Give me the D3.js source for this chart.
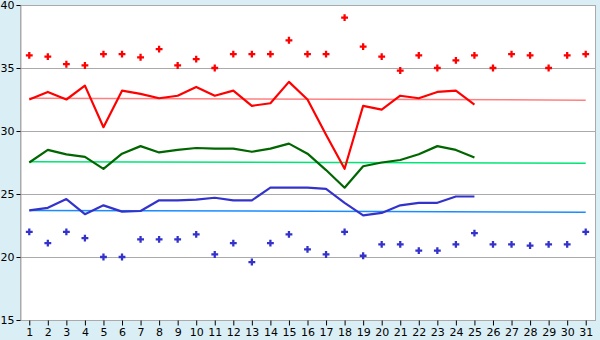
<!DOCTYPE html>
<html>
<head>
<meta charset="utf-8">
<script src="https://cdn.jsdelivr.net/npm/d3@7"></script>
<style>
  body { margin: 0; background: #daeef5; }
  svg { display: block; font-family: "DejaVu Sans", Verdana, sans-serif; font-size: 11px; }
</style>
</head>
<body>
<div id="chart"></div>
<script>
const days = d3.range(1, 32);
const yTicks = [15, 20, 25, 30, 35, 40];

// upper dots (red) and lower dots (blue), one per day
const highDots = [36.0, 35.9, 35.3, 35.2, 36.1, 36.1, 35.85, 36.5, 35.2, 35.7,
    35.0, 36.1, 36.1, 36.1, 37.2, 36.1, 36.1, 39.0, 36.7, 35.9,
    34.8, 36.0, 35.0, 35.6, 36.0, 35.0, 36.1, 36.0, 35.0, 36.0, 36.1];
const lowDots = [22.0, 21.1, 22.0, 21.5, 20.0, 20.0, 21.4, 21.4, 21.4, 21.8,
    20.2, 21.1, 19.6, 21.1, 21.8, 20.6, 20.2, 22.0, 20.1, 21.0,
    21.0, 20.5, 20.5, 21.0, 21.9, 21.0, 21.0, 20.9, 21.0, 21.0, 22.0];

// lines for days 1..25
const redLine = [32.5, 33.1, 32.5, 33.6, 30.3, 33.2, 32.95, 32.6, 32.8, 33.5,
    32.8, 33.2, 32.0, 32.2, 33.9, 32.5, 29.7, 27.0, 32.0, 31.7,
    32.8, 32.6, 33.1, 33.2, 32.1];
const greenLine = [27.5, 28.5, 28.15, 27.95, 27.0, 28.2, 28.8, 28.3, 28.5, 28.65,
    28.6, 28.6, 28.35, 28.6, 29.0, 28.2, 26.9, 25.5, 27.2, 27.5,
    27.7, 28.15, 28.8, 28.5, 27.9];
const blueLine = [23.7, 23.9, 24.6, 23.4, 24.1, 23.6, 23.65, 24.5, 24.5, 24.55,
    24.7, 24.5, 24.5, 25.5, 25.5, 25.5, 25.4, 24.3, 23.3, 23.5,
    24.1, 24.3, 24.3, 24.8, 24.8];

// trend lines, value at day 1 and day 31
const redTrend = [32.6, 32.45];
const greenTrend = [27.56, 27.45];
const blueTrend = [23.7, 23.56];

const width = 600, height = 340;
const margin = { top: 5, right: 5, bottom: 20, left: 20 };

const svg = d3.select('#chart').append('svg')
    .attr('width', width)
    .attr('height', height);

const x = d3.scalePoint()
    .domain(days)
    .range([margin.left, width - margin.right])
    .padding(0.5);

const y = d3.scaleLinear()
    .domain([15, 40])
    .range([height - margin.bottom, margin.top]);

// plot background
svg.append('rect')
    .attr('x', margin.left)
    .attr('y', margin.top)
    .attr('width', width - margin.left - margin.right)
    .attr('height', height - margin.top - margin.bottom)
    .attr('fill', '#fff')
    .attr('stroke', '#aaa')
    .attr('shape-rendering', 'crispEdges');

// grid
svg.append('g')
    .selectAll('line')
    .data(yTicks)
    .join('line')
    .attr('x1', margin.left)
    .attr('x2', width - margin.right)
    .attr('y1', d => Math.round(y(d)) + 0.5)
    .attr('y2', d => Math.round(y(d)) + 0.5)
    .attr('stroke', '#aaa');

// y axis
const yAxis = svg.append('g')
    .attr('transform', `translate(${margin.left + 0.5},0)`)
    .call(d3.axisLeft(y).tickValues(yTicks).tickSize(4).tickPadding(2));
yAxis.select('.domain').attr('stroke', '#aaa');
yAxis.selectAll('.tick line').attr('stroke', '#000');
yAxis.selectAll('text').attr('font-size', 11).attr('font-family', 'DejaVu Sans').attr('fill', '#000');

// x axis
const xAxis = svg.append('g')
    .attr('transform', `translate(0,${height - margin.bottom + 0.5})`)
    .call(d3.axisBottom(x).tickSize(5).tickPadding(3));
xAxis.select('.domain').remove();
xAxis.selectAll('.tick line').attr('stroke', '#000');
xAxis.selectAll('text').attr('font-size', 11).attr('font-family', 'DejaVu Sans').attr('fill', '#000');

// trend lines
const trends = [
    { v: redTrend, color: '#ff8080' },
    { v: greenTrend, color: '#00e676' },
    { v: blueTrend, color: '#1a8cff' }
];
svg.append('g')
    .selectAll('line')
    .data(trends)
    .join('line')
    .attr('x1', x(1))
    .attr('x2', x(31))
    .attr('y1', d => y(d.v[0]))
    .attr('y2', d => y(d.v[1]))
    .attr('stroke', d => d.color)
    .attr('stroke-width', 1.5);

// data lines
const line = d3.line()
    .x((d, i) => x(days[i]))
    .y(d => y(d));

const series = [
    { v: redLine, color: '#ff0000' },
    { v: greenLine, color: '#006600' },
    { v: blueLine, color: '#3333cc' }
];
svg.append('g')
    .selectAll('path')
    .data(series)
    .join('path')
    .attr('d', d => line(d.v))
    .attr('fill', 'none')
    .attr('stroke', d => d.color)
    .attr('stroke-width', 2.2)
    .attr('stroke-linejoin', 'round');

// dots
const cross = d3.symbol().type(d3.symbolCross).size(26);
const dotSets = [
    { v: highDots, color: '#ff0000' },
    { v: lowDots, color: '#3333cc' }
];
dotSets.forEach(s => {
    svg.append('g')
        .selectAll('path')
        .data(s.v)
        .join('path')
        .attr('transform', (d, i) => `translate(${x(days[i])},${y(d)})`)
        .attr('d', cross)
        .attr('fill', s.color);
});
</script>
</body>
</html>
